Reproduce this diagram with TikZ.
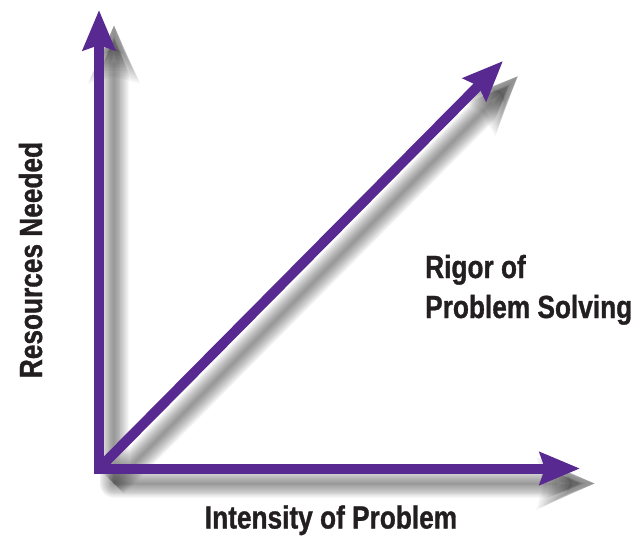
\documentclass[tikz,border=0pt]{standalone}
\usepackage{fontspec}
\setmainfont{Liberation Sans}[FakeStretch=0.82, BoldFeatures={FakeBold=1}]
\usetikzlibrary{arrows.meta}
\definecolor{axpurple}{RGB}{88,42,145}
\definecolor{txt}{RGB}{35,31,32}
\tikzset{
  axisline/.style={draw=axpurple, line width=10pt, line join=miter,
    -{Stealth[length=40pt, width=32pt, inset=5pt]}},
  bothends/.style={draw=axpurple, line width=10pt, line join=miter,
    {Stealth[length=40pt, width=32pt, inset=5pt]}-{Stealth[length=40pt, width=32pt, inset=5pt]}},
  lbl/.style={text=txt, inner sep=0pt, font=\bfseries\fontsize{32}{40}\selectfont},
  shadowlayer/.style={draw=black, opacity=0.03, line join=round},
}
\begin{document}
\begin{tikzpicture}[x=1pt,y=-1pt]
\useasboundingbox (0,0) rectangle (644,535);
\coordinate (O) at (99,468.5);
\coordinate (Ytip) at (99,10);
\coordinate (Xtip) at (580,468.5);
\coordinate (Dtip) at (503,61);
% shadow anchor points
\coordinate (sO) at ([xshift=15pt,yshift=-15pt]O);
\coordinate (sY) at ([xshift=15pt,yshift=-15pt]Ytip);
\coordinate (sX) at ([xshift=15pt,yshift=-15pt]Xtip);
\coordinate (sD) at ([xshift=15pt,yshift=-15pt]Dtip);
% blurred shadows
\foreach \k in {0,...,15}{
  \pgfmathsetmacro{\lw}{2+1.8*\k}
  \pgfmathsetmacro{\hl}{30+1.8*\k}
  \pgfmathsetmacro{\hw}{22+1.8*\k}
  \draw[shadowlayer, line width=\lw pt,
    {Stealth[length=\hl pt, width=\hw pt, inset=5pt]}-{Stealth[length=\hl pt, width=\hw pt, inset=5pt]}]
    (sY) -- (sO) -- (sX);
  \draw[shadowlayer, line width=\lw pt,
    -{Stealth[length=\hl pt, width=\hw pt, inset=5pt]}]
    (sO) -- (sD);
}
% arrows
\draw[axisline] (O) -- (Dtip);
\draw[bothends] (Ytip) -- (O) -- (Xtip);
% labels
\node[lbl, anchor=base west] (rig1) at (425,278) {Rigor of};
\node[lbl, anchor=base west] (rig2) at (425,318) {Problem Solving};
\node[lbl, anchor=base] (xlab) at (331,528.5) {Intensity of Problem};
\node[lbl, anchor=base, rotate=90] (ylab) at (42,260) {Resources Needed};
\end{tikzpicture}
\end{document}
